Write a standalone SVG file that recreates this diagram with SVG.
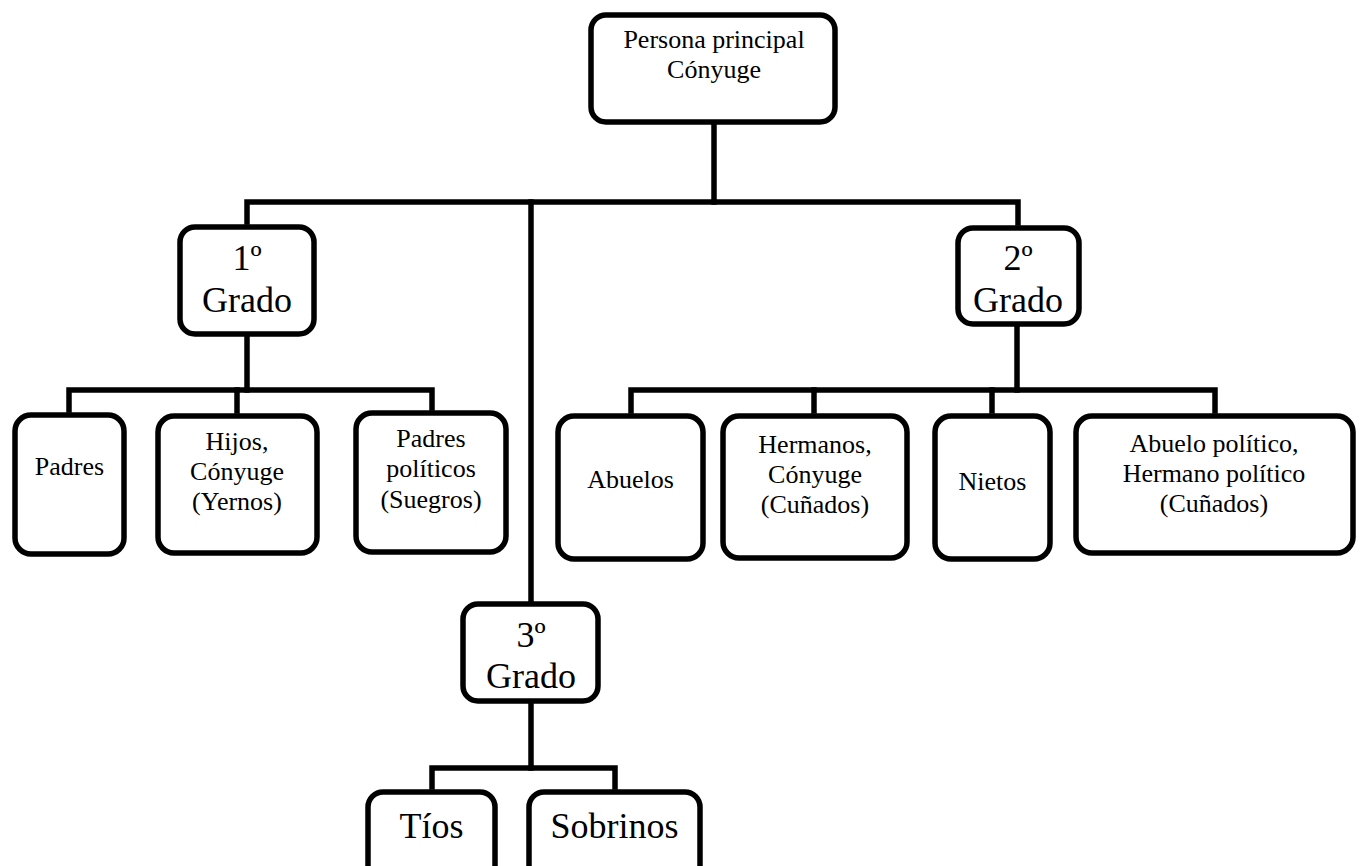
<svg xmlns="http://www.w3.org/2000/svg" width="1360" height="866" viewBox="0 0 1360 866">
<style>
.box{fill:#fff;stroke:#000;stroke-width:5.5}
.ln{fill:none;stroke:#000;stroke-width:5.5;stroke-linejoin:miter;stroke-linecap:square}
text{font-family:'Liberation Serif','Times New Roman',Times,'DejaVu Serif','Noto Serif',serif;fill:#000;text-anchor:middle}
.s{font-size:26px}
.b{font-size:36px}
</style>
<rect width="1360" height="866" fill="#fff"/>
<g id="connectors">
<path class="ln" d="M714,125 V202"/>
<path class="ln" d="M247,222 V202 H1018 V223"/>
<path class="ln" d="M531,202 V600"/>
<path class="ln" d="M247,337 V390"/>
<path class="ln" d="M69,410 V390 H432 V408"/>
<path class="ln" d="M237,390 V411"/>
<path class="ln" d="M1017,327 V390"/>
<path class="ln" d="M631,411 V390 H1215 V411"/>
<path class="ln" d="M814,390 V411"/>
<path class="ln" d="M992,390 V411"/>
<path class="ln" d="M531,704 V768"/>
<path class="ln" d="M432,787 V768 H615 V787"/>
</g>
<g id="persona">
<rect class="box" x="591" y="15" width="244" height="107" rx="15"/>
<text class="s" x="714" y="48" font-family="Liberation Serif, serif">Persona principal</text>
<text class="s" x="714" y="78" font-family="Liberation Serif, serif">Cónyuge</text>
</g>
<g id="grado1">
<rect class="box" x="180" y="227" width="134" height="107" rx="15"/>
<text class="b" x="247" y="270">1º</text>
<text class="b" x="247" y="312">Grado</text>
</g>
<g id="grado2">
<rect class="box" x="958" y="228" width="121" height="96" rx="15"/>
<text class="b" x="1018" y="270">2º</text>
<text class="b" x="1018" y="312">Grado</text>
</g>
<g id="grado3">
<rect class="box" x="463" y="604" width="135" height="97" rx="15"/>
<text class="b" x="531" y="647">3º</text>
<text class="b" x="531" y="688">Grado</text>
</g>
<g id="padres">
<rect class="box" x="15" y="415" width="109" height="139" rx="16"/>
<text class="s" x="69.5" y="475">Padres</text>
</g>
<g id="hijos">
<rect class="box" x="158" y="416" width="159" height="137" rx="16"/>
<text class="s" x="237" y="450">Hijos,</text>
<text class="s" x="237" y="480">Cónyuge</text>
<text class="s" x="237" y="510">(Yernos)</text>
</g>
<g id="padres-politicos">
<rect class="box" x="356" y="413" width="150" height="139" rx="16"/>
<text class="s" x="431" y="447">Padres</text>
<text class="s" x="431" y="477">políticos</text>
<text class="s" x="431" y="508">(Suegros)</text>
</g>
<g id="abuelos">
<rect class="box" x="558" y="416" width="145" height="143" rx="16"/>
<text class="s" x="630.5" y="488">Abuelos</text>
</g>
<g id="hermanos">
<rect class="box" x="723" y="416" width="184" height="142" rx="16"/>
<text class="s" x="815" y="453">Hermanos,</text>
<text class="s" x="815" y="483">Cónyuge</text>
<text class="s" x="815" y="513">(Cuñados)</text>
</g>
<g id="nietos">
<rect class="box" x="935" y="416" width="115" height="143" rx="16"/>
<text class="s" x="992.5" y="490">Nietos</text>
</g>
<g id="abuelo-politico">
<rect class="box" x="1076" y="416" width="277" height="137" rx="16"/>
<text class="s" x="1214" y="452">Abuelo político,</text>
<text class="s" x="1214" y="482">Hermano político</text>
<text class="s" x="1214" y="512">(Cuñados)</text>
</g>
<g id="tios">
<rect class="box" x="368" y="792" width="127" height="120" rx="15"/>
<text class="b" x="431.5" y="838">Tíos</text>
</g>
<g id="sobrinos">
<rect class="box" x="529" y="792" width="171" height="120" rx="15"/>
<text class="b" x="614.5" y="838">Sobrinos</text>
</g>
</svg>
